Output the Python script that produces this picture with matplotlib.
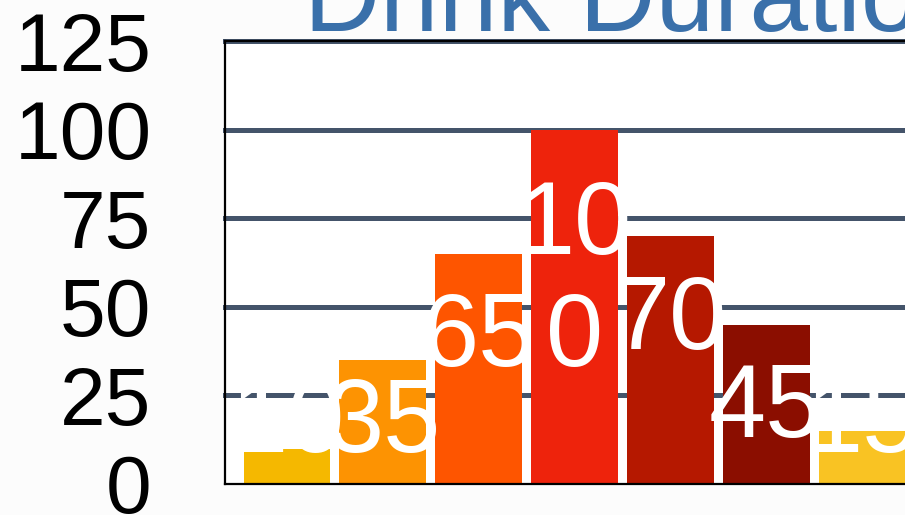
import matplotlib
matplotlib.use('Agg')
import matplotlib.pyplot as plt
import numpy as np

# Data
categories = ['1', '2', '3', '4', '5', '6', '7']
values = [10, 35, 65, 100, 70, 45, 15]
bar_colors = ['#F5B800', '#FD9302', '#FE5500', '#EE230C', '#B51800', '#8B0E00', '#F9C323']
y_ticks = [0, 25, 50, 75, 100, 125]
title = 'Drink Duration'

plt.rcParams['font.family'] = ['Liberation Sans', 'DejaVu Sans']

fig = plt.figure(figsize=(9.05, 5.15), dpi=100)
fig.patch.set_facecolor('#FCFCFC')

# axes runs past the right edge of the figure, like the cropped original
ax_h_px = 443
ax = fig.add_axes([225 / 905, 31 / 515, 699 / 905, ax_h_px / 515])
ax.set_facecolor('white')

x = np.arange(len(categories))
ax.bar(x, values, width=0.906, color=bar_colors, zorder=3)

# gridlines behind bars
for t in y_ticks[1:]:
    ax.axhline(t, color='#44546A', linewidth=3.6, zorder=1, clip_on=False)

ax.set_xlim(-0.646, 6.646)
ax.set_ylim(0, 125)
ax.set_xticks([])
ax.set_yticks(y_ticks)
ax.set_yticklabels([str(t) for t in y_ticks], fontsize=59, color='black')
ax.tick_params(axis='y', length=0, pad=53)

for side in ['left', 'bottom', 'top']:
    ax.spines[side].set_color('black')
    ax.spines[side].set_linewidth(1.6)
    ax.spines[side].set_zorder(4)
ax.spines['right'].set_visible(False)

# white data labels, wrapped when they don't fit the bar
label_size = 74
line_h = 1.2 * label_size * 100 / 72 * 125 / ax_h_px  # one text line in data units
for xi, v in zip(x, values):
    s = str(v)
    if len(s) > 2:
        s = s[:2] + '\n' + s[2:]
    n_lines = s.count('\n') + 1
    y_first = max(v - 31.8, 9.0)
    ax.text(xi, y_first - (n_lines - 1) * line_h, s, ha='center', va='baseline',
            fontsize=label_size, color='white', zorder=5, linespacing=1.2)

fig.text(304 / 905, 1 - 31 / 515, title, ha='left', va='baseline',
         fontsize=76, color='#3A70AA')

fig.savefig('out.png', dpi=100, facecolor=fig.get_facecolor())
